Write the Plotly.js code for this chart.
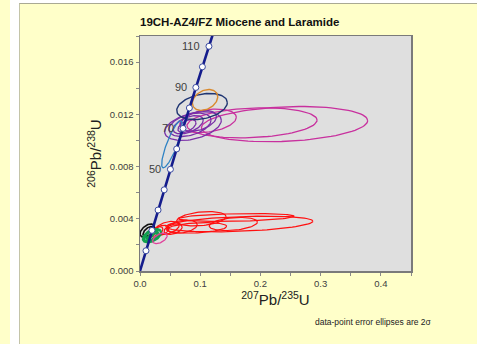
<!DOCTYPE html>
<html>
<head>
<meta charset="utf-8">
<script src="https://cdn.plot.ly/plotly-3.0.1.min.js"></script>
<style>
  html, body { margin: 0; padding: 0; width: 477px; height: 344px; overflow: hidden; background: #ffffff; }
  #strip { position: absolute; left: 0; top: 0; width: 10px; height: 344px; background: #FFFFC9; }
  #panel { position: absolute; left: 19px; top: 3px; width: 458px; height: 341px; background: #FFFFC9;
           border-top: 1px solid #A9A993; border-left: 1px solid #C4C4A8; }
  #chart { position: absolute; left: 20px; top: 4px; width: 457px; height: 340px; }
</style>
</head>
<body>
<div id="strip"></div>
<div id="panel"></div>
<div id="chart"></div>
<script>
// Concordia reference points (every 10 Ma)
const concAge  = [0, 10, 20, 30, 40, 50, 60, 70, 80, 90, 100, 110, 120];
const concX    = [0, 0.0099, 0.0199, 0.0300, 0.0402, 0.0505, 0.0609, 0.0714, 0.0820, 0.0927, 0.1036, 0.1145, 0.1255];
const concY    = [0, 0.00155, 0.00311, 0.00467, 0.00622, 0.00779, 0.00935, 0.01092, 0.01249, 0.01406, 0.01564, 0.01721, 0.01880];
const ageLabels = ['50', '70', '90', '110'];

// Analyses: 207Pb/235U, 206Pb/238U, 2-sigma half widths, error correlation, sample group
const ellX   = [0.240, 0.186, 0.113,
                0.088, 0.083, 0.080, 0.078, 0.097,
                0.103, 0.108, 0.053,
                0.165, 0.160, 0.102, 0.155, 0.094, 0.045, 0.035, 0.055, 0.070, 0.028,
                0.012, 0.014,
                0.020, 0.018, 0.021, 0.016,
                0.033];
const ellY   = [0.01125, 0.01135, 0.0115,
                0.0111, 0.0112, 0.0112, 0.0111, 0.0115,
                0.0126, 0.0131, 0.0097,
                0.0036, 0.0041, 0.0040, 0.0036, 0.0033, 0.0033, 0.0031, 0.0032, 0.0034, 0.0030,
                0.0031, 0.0030,
                0.0027, 0.0027, 0.0026, 0.0028,
                0.0025];
const ellSX  = [0.138, 0.108, 0.047,
                0.047, 0.035, 0.025, 0.015, 0.030,
                0.042, 0.021, 0.017,
                0.122, 0.096, 0.041, 0.040, 0.050, 0.020, 0.013, 0.015, 0.025, 0.010,
                0.012, 0.009,
                0.015, 0.012, 0.009, 0.007,
                0.012];
const ellSY  = [0.00135, 0.00115, 0.0009,
                0.0011, 0.0009, 0.0007, 0.0005, 0.0008,
                0.0010, 0.0008, 0.0018,
                0.0006, 0.0003, 0.00055, 0.0005, 0.0004, 0.0005, 0.0004, 0.0004, 0.0005, 0.0004,
                0.0005, 0.0004,
                0.0005, 0.0004, 0.0003, 0.0003,
                0.0004];
const ellRho = [0.20, 0.18, 0.30,
                0.40, 0.40, 0.50, 0.50, 0.40,
                0.30, 0.30, 0.84,
                0.35, 0.30, 0.30, 0.30, 0.30, 0.40, 0.40, 0.40, 0.30, 0.50,
                0.50, 0.50,
                0.50, 0.50, 0.50, 0.50,
                0.50];
const ellGroup = ['mag', 'mag', 'mag',
                  'pur', 'pur', 'pur', 'pur', 'pur',
                  'navy', 'orange', 'blue',
                  'red', 'red', 'red', 'red', 'red', 'red', 'red', 'red', 'red', 'red',
                  'black', 'black',
                  'green', 'green', 'green', 'green',
                  'pink'];

const groupStyle = {
  mag:    { color: '#C8309E', width: 1.3 },
  pur:    { color: '#7A2FA8', width: 1.3 },
  navy:   { color: '#1F3572', width: 1.4 },
  orange: { color: '#D98A2E', width: 1.4 },
  blue:   { color: '#2E82C4', width: 1.3 },
  red:    { color: '#FF1010', width: 1.2 },
  black:  { color: '#111111', width: 1.6 },
  green:  { color: '#12A050', width: 2.4 },
  pink:   { color: '#E0409A', width: 1.3 }
};

// Trace the outline of each error ellipse in data space
function ellipsePath(cx, cy, sx, sy, rho) {
  const xs = [], ys = [];
  const n = 90, q = Math.sqrt(1 - rho * rho);
  for (let i = 0; i <= n; i++) {
    const t = 2 * Math.PI * i / n;
    xs.push(cx + sx * Math.cos(t));
    ys.push(cy + sy * (rho * Math.cos(t) + q * Math.sin(t)));
  }
  return { xs, ys };
}

const traces = [];
for (let i = 0; i < ellX.length; i++) {
  const p = ellipsePath(ellX[i], ellY[i], ellSX[i], ellSY[i], ellRho[i]);
  const st = groupStyle[ellGroup[i]];
  traces.push({
    type: 'scatter', mode: 'lines', x: p.xs, y: p.ys,
    line: { color: st.color, width: st.width },
    hoverinfo: 'skip', showlegend: false
  });
}

// Concordia curve with age markers
traces.push({
  type: 'scatter', mode: 'lines', x: concX, y: concY,
  line: { color: '#141C8C', width: 2.6 }, hoverinfo: 'skip', showlegend: false
});
traces.push({
  type: 'scatter', mode: 'markers', x: concX.slice(1), y: concY.slice(1),
  marker: { size: 6, color: '#ffffff', line: { color: '#3A4AA0', width: 1 } },
  hoverinfo: 'skip', showlegend: false, cliponaxis: true
});

const annotations = ageLabels.map(a => {
  const k = concAge.indexOf(Number(a));
  return {
    x: concX[k], y: concY[k], xref: 'x', yref: 'y', text: a, showarrow: false,
    xanchor: 'right', yanchor: 'middle', xshift: -7,
    font: { family: 'Liberation Sans, Arial, sans-serif', size: 11, color: '#404040' }
  };
});
annotations.push({
  xref: 'paper', yref: 'paper', x: 0.638, y: -0.217, xanchor: 'left', yanchor: 'middle',
  text: 'data-point error ellipses are 2σ', showarrow: false,
  font: { family: 'Liberation Sans, Arial, sans-serif', size: 8.5, color: '#222222' }
});

const axisFont = { family: 'Liberation Sans, Arial, sans-serif', size: 9.5, color: '#404040' };

const layout = {
  width: 457, height: 340,
  margin: { l: 120, r: 66, t: 32, b: 73 },
  paper_bgcolor: 'rgba(0,0,0,0)',
  plot_bgcolor: '#DFDFDF',
  showlegend: false,
  title: {
    text: '<b>19CH-AZ4/FZ Miocene and Laramide</b>',
    x: 0, xref: 'paper', xanchor: 'left', y: 0.947, yref: 'container', yanchor: 'middle',
    font: { family: 'Liberation Sans, Arial, sans-serif', size: 11.5, color: '#111111' }
  },
  xaxis: {
    range: [0, 0.45], dtick: 0.1, tick0: 0, tickformat: '.1f',
    showgrid: false, zeroline: false, showline: true, mirror: true,
    linecolor: '#7A7A7A', linewidth: 1.5,
    ticks: 'outside', ticklen: 3, tickcolor: '#8A8A8A',
    minor: { dtick: 0.05, ticks: 'outside', ticklen: 3, tickcolor: '#8A8A8A', showgrid: false },
    tickfont: axisFont,
    title: { text: '<sup>207</sup>Pb/<sup>235</sup>U', standoff: 3,
             font: { family: 'Liberation Sans, Arial, sans-serif', size: 15, color: '#222222' } }
  },
  yaxis: {
    range: [0, 0.018], dtick: 0.004, tick0: 0, tickformat: '.3f',
    showgrid: false, zeroline: false, showline: true, mirror: true,
    linecolor: '#7A7A7A', linewidth: 1.5,
    ticks: 'outside', ticklen: 3, tickcolor: '#8A8A8A',
    minor: { dtick: 0.002, ticks: 'outside', ticklen: 3, tickcolor: '#8A8A8A', showgrid: false },
    tickfont: axisFont,
    title: { text: '<sup>206</sup>Pb/<sup>238</sup>U', standoff: 4,
             font: { family: 'Liberation Sans, Arial, sans-serif', size: 15, color: '#222222' } }
  },
  annotations: annotations
};

Plotly.newPlot('chart', traces, layout, { staticPlot: true, displayModeBar: false });
</script>
</body>
</html>
